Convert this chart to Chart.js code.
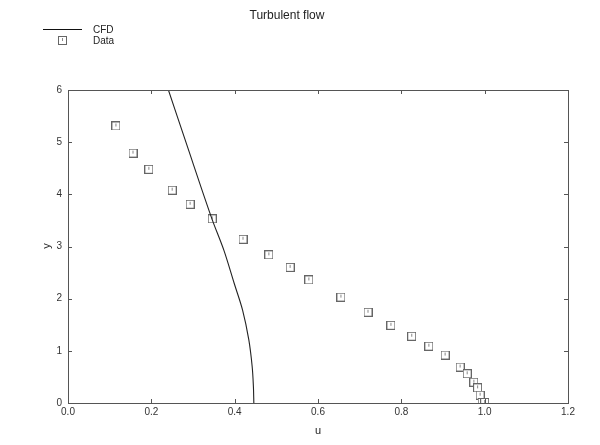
<!DOCTYPE html>
<html><head><meta charset="utf-8">
<script src="https://cdn.jsdelivr.net/npm/chart.js@4"></script>
<style>html,body{margin:0;padding:0;background:#fff}#wrap{width:600px;height:445px}</style>
</head><body><div id="wrap"><canvas id="c" width="600" height="445"></canvas></div>
<script>
const chartTitle = "Turbulent flow";
const xAxisTitle = "u";
const yAxisTitle = "y";
const seriesNames = ["CFD", "Data"];
const xTicks = [0, 0.2, 0.4, 0.6, 0.8, 1.0, 1.2];
const yTicks = [0, 1, 2, 3, 4, 5, 6];
// CFD curve (u, y)
const cfdU = [0.241, 0.283, 0.345, 0.374, 0.399, 0.419, 0.434, 0.442, 0.445, 0.446];
const cfdY = [6.0, 5.0, 3.54, 2.93, 2.29, 1.78, 1.21, 0.70, 0.31, 0.0];
// Measured data (u, y)
const dataU = [0.115, 0.156, 0.194, 0.25, 0.293, 0.346, 0.42, 0.482, 0.533, 0.578, 0.655, 0.72, 0.775, 0.825, 0.866, 0.905, 0.941, 0.958, 0.974, 0.983, 0.989, 0.994, 1.0];
const dataY = [5.31, 4.79, 4.48, 4.08, 3.81, 3.53, 3.14, 2.84, 2.6, 2.36, 2.03, 1.74, 1.49, 1.28, 1.09, 0.92, 0.69, 0.56, 0.40, 0.29, 0.15, 0.01, 0.01];

const FONT = "'Liberation Sans', Arial, sans-serif";
const AXC = '#555';

// marker: square with a small vertical tick inside
function makeMarker() {
  const m = document.createElement('canvas');
  m.width = 9; m.height = 9;
  const g = m.getContext('2d');
  g.fillStyle = '#fff'; g.fillRect(0, 0, 9, 9);
  g.strokeStyle = '#666'; g.lineWidth = 1;
  g.strokeRect(0.5, 0.5, 8, 8);
  g.strokeStyle = '#888';
  g.beginPath(); g.moveTo(4.5, 2); g.lineTo(4.5, 5); g.stroke();
  return m;
}
const marker = makeMarker();

const decor = {
  id: 'decor',
  afterDraw(chart) {
    const ctx = chart.ctx, a = chart.chartArea;
    const xs = chart.scales.x, ys = chart.scales.y;
    ctx.save();
    ctx.strokeStyle = AXC; ctx.lineWidth = 1;
    ctx.strokeRect(Math.round(a.left) + 0.5, Math.round(a.top) + 0.5, Math.round(a.right - a.left), Math.round(a.bottom - a.top));
    ctx.beginPath();
    xTicks.forEach(v => {
      const px = Math.round(xs.getPixelForValue(v)) + 0.5;
      ctx.moveTo(px, a.bottom); ctx.lineTo(px, a.bottom - 4);
      ctx.moveTo(px, a.top); ctx.lineTo(px, a.top + 4);
    });
    yTicks.forEach(v => {
      const py = Math.round(ys.getPixelForValue(v)) + 0.5;
      ctx.moveTo(a.left, py); ctx.lineTo(a.left + 4, py);
      ctx.moveTo(a.right, py); ctx.lineTo(a.right - 4, py);
    });
    ctx.stroke();
    // title
    ctx.fillStyle = '#222';
    ctx.font = '12px ' + FONT;
    ctx.textAlign = 'center'; ctx.textBaseline = 'middle';
    ctx.fillText(chartTitle, 287, 16);
    // axis titles
    ctx.font = '11px ' + FONT;
    ctx.fillText(xAxisTitle, 318, 431);
    ctx.save();
    ctx.translate(47, 246); ctx.rotate(-Math.PI / 2);
    ctx.fillText(yAxisTitle, 0, 0);
    ctx.restore();
    // legend
    ctx.font = '10px ' + FONT;
    ctx.textAlign = 'left';
    ctx.strokeStyle = '#111';
    ctx.beginPath(); ctx.moveTo(43, 29.5); ctx.lineTo(82, 29.5); ctx.stroke();
    ctx.fillText(seriesNames[0], 93, 30);
    ctx.drawImage(marker, 58, 36);
    ctx.fillText(seriesNames[1], 93, 41);
    ctx.restore();
  }
};

new Chart(document.getElementById('c'), {
  type: 'scatter',
  data: {
    datasets: [
      {
        label: seriesNames[0],
        data: cfdU.map((u, i) => ({x: u, y: cfdY[i]})),
        showLine: true,
        borderColor: '#222',
        borderWidth: 1.1,
        pointRadius: 0,
        tension: 0.35,
        fill: false
      },
      {
        label: seriesNames[1],
        data: dataU.map((u, i) => ({x: u, y: dataY[i]})),
        showLine: false,
        pointStyle: marker,
        pointRadius: 4
      }
    ]
  },
  options: {
    responsive: false,
    animation: false,
    events: [],
    layout: { padding: { left: 0, top: 90, right: 32, bottom: 0 } },
    plugins: { legend: { display: false }, title: { display: false }, tooltip: { enabled: false } },
    scales: {
      x: {
        type: 'linear', min: 0, max: 1.2,
        afterFit(s) { s.height = 42; },
        afterBuildTicks(s) { s.ticks = xTicks.map(v => ({value: v})); },
        grid: { display: false, drawTicks: false },
        border: { display: false },
        ticks: { padding: 3, color: '#333', font: { size: 10, family: FONT }, callback: v => v.toFixed(1), maxRotation: 0 }
      },
      y: {
        type: 'linear', min: 0, max: 6,
        afterFit(s) { s.width = 68; },
        afterBuildTicks(s) { s.ticks = yTicks.map(v => ({value: v})); },
        grid: { display: false, drawTicks: false },
        border: { display: false },
        ticks: { padding: 6, color: '#333', font: { size: 10, family: FONT }, callback: v => String(v) }
      }
    }
  },
  plugins: [decor]
});
</script>
</body></html>
